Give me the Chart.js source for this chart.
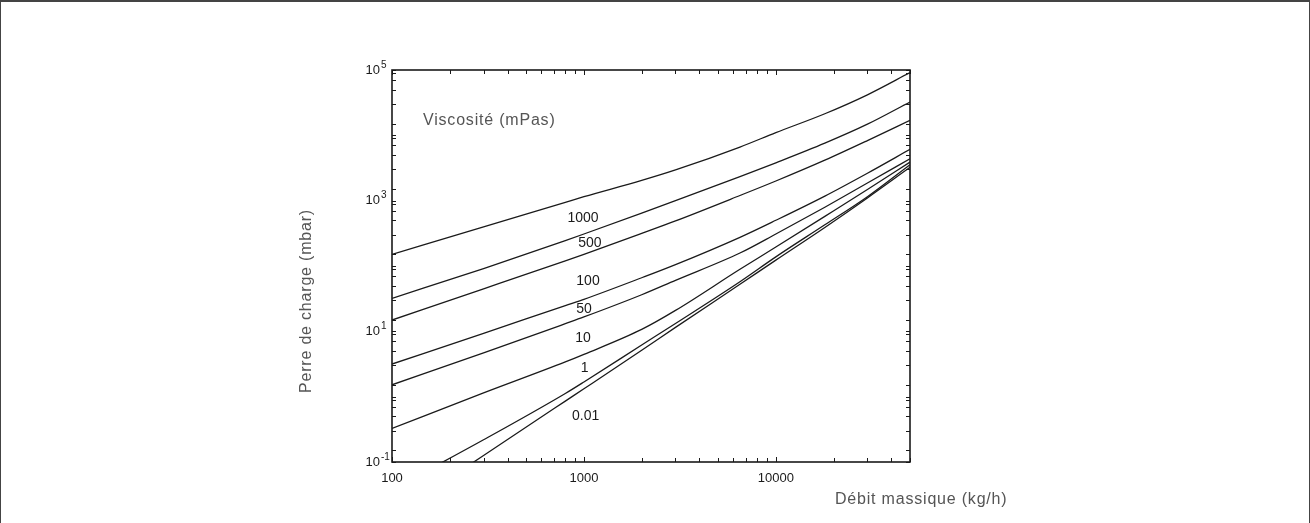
<!DOCTYPE html>
<html>
<head>
<meta charset="utf-8">
<title>Perte de charge</title>
<script src="https://cdn.jsdelivr.net/npm/chart.js@4.4.1/dist/chart.umd.min.js"></script>
<style>
  html, body { margin: 0; padding: 0; background: #fff; }
  .frame {
    position: absolute; left: 0; top: 0; width: 1310px; height: 523px;
    box-sizing: border-box;
    border-top: 2px solid #444; border-left: 1px solid #444; border-right: 1px solid #444;
  }
  .wrap { position: absolute; left: 0; top: 0; width: 1310px; height: 523px; }
</style>
</head>
<body>
<div class="frame"></div>
<div class="wrap"><canvas id="myChart" width="1310" height="523"></canvas></div>
<script>
// débit massique (kg/h)
const debit = [100, 300, 800, 1000, 2000, 3000, 6500, 10000, 18000, 30000, 50000];

// perte de charge (mbar) per viscosity (mPas)
const visc1000 = [151, 398, 944, 1150, 2040, 2950, 6610, 11000, 21400, 41700, 91200];
const visc500 = [32, 91.2, 245, 309, 646, 1000, 2340, 3800, 7590, 14800, 32400];
const visc100 = [14.9, 44.7, 120, 151, 316, 490, 1200, 2000, 4170, 8320, 17000];
const visc50 = [3.16, 9.33, 24.8, 30.9, 66.1, 105, 275, 501, 1175, 2630, 6100];
const visc10 = [1.52, 4.68, 13.1, 16.6, 36.3, 60.3, 158, 309, 794, 1860, 4370];
const visc1 = [0.327, 1.14, 3.4, 4.44, 10.7, 20.9, 89.1, 195, 575, 1480, 3890];
const visc01 = [0.038, 0.219, 1.12, 1.68, 6.17, 13.2, 57.5, 138, 427, 1150, 3550];
const visc001 = [0.0145, 0.126, 0.855, 1.32, 5.13, 11.5, 52.5, 123, 389, 1100, 3240];

const series = [visc1000, visc500, visc100, visc50, visc10, visc1, visc01, visc001];
const seriesNames = ["1000", "500", "100", "50", "10", "1", "0.1", "0.01"];

// tick labels
const xTickLabels = [100, 1000, 10000];
const yTickValues = [0.1, 10, 1000, 100000];
const yTickBase = "10";
const yTickExponents = ["-1", "1", "3", "5"];

// curve labels, anchored in data units
const curveLabelText = ["1000", "500", "100", "50", "10", "1", "0.01"];
const curveLabelX = [990, 1075, 1050, 1000, 990, 1010, 1020];
const curveLabelY = [543, 225, 58.9, 21.6, 7.9, 2.74, 0.506];

const xMin = 100, xMax = 50000, yMin = 0.1, yMax = 100000;

// tick marks: every unit on x, 1 / 1.5 / 3 / 5 / 7 / 9 on y
const xTicks = [];
for (let e = 2; e <= 4; e++) {
  for (let m = 1; m <= 9; m++) {
    const v = m * Math.pow(10, e);
    if (v <= xMax) xTicks.push(v);
  }
}
const yTicks = [];
for (let e = -1; e <= 4; e++) {
  [1, 1.5, 3, 5, 7, 9].forEach((m) => yTicks.push(m * Math.pow(10, e)));
}
yTicks.push(yMax);

const grey = "#555";
const ink = "#1a1a1a";
const family = "'Liberation Sans', Arial, sans-serif";

const frameTicks = {
  id: "frameTicks",
  afterDatasetsDraw(chart) {
    const { ctx, chartArea: a, scales } = chart;
    ctx.save();
    ctx.strokeStyle = ink;
    ctx.lineWidth = 1;
    xTicks.forEach((v) => {
      const px = Math.round(scales.x.getPixelForValue(v)) + 0.5;
      const len = Number.isInteger(Math.log10(v)) ? 5 : 4;
      ctx.beginPath();
      ctx.moveTo(px, a.bottom);
      ctx.lineTo(px, a.bottom - len);
      ctx.moveTo(px, a.top);
      ctx.lineTo(px, a.top + len);
      ctx.stroke();
    });
    yTicks.forEach((v) => {
      const py = Math.round(scales.y.getPixelForValue(v)) + 0.5;
      const len = 4;
      ctx.beginPath();
      ctx.moveTo(a.left, py);
      ctx.lineTo(a.left + len, py);
      ctx.moveTo(a.right, py);
      ctx.lineTo(a.right - len, py);
      ctx.stroke();
    });
    ctx.lineWidth = 1.6;
    ctx.strokeRect(a.left, a.top, a.right - a.left, a.bottom - a.top);
    ctx.restore();
  },
};

const texts = {
  id: "texts",
  afterDraw(chart) {
    const { ctx, chartArea: a, scales } = chart;
    ctx.save();

    // exponents of the y tick labels
    ctx.fillStyle = ink;
    ctx.font = `10px ${family}`;
    ctx.textAlign = "left";
    ctx.textBaseline = "middle";
    yTickValues.forEach((v, i) => {
      ctx.fillText(yTickExponents[i], a.left - 11, scales.y.getPixelForValue(v) - 5);
    });

    // curve labels
    ctx.font = `14px ${family}`;
    ctx.textAlign = "center";
    curveLabelText.forEach((t, i) => {
      ctx.fillText(
        t,
        scales.x.getPixelForValue(curveLabelX[i]),
        scales.y.getPixelForValue(curveLabelY[i])
      );
    });

    ctx.fillStyle = grey;
    ctx.font = `16px ${family}`;
    ctx.letterSpacing = "0.8px";

    ctx.textAlign = "left";
    ctx.textBaseline = "alphabetic";
    ctx.fillText("Viscosité (mPas)", a.left + 31, a.top + 55);

    ctx.textBaseline = "middle";
    ctx.fillText("Débit massique (kg/h)", a.right - 75, a.bottom + 38);

    ctx.translate(a.left - 85, a.top + 231);
    ctx.rotate(-Math.PI / 2);
    ctx.textAlign = "center";
    ctx.fillText("Perre de charge (mbar)", 0, 0);

    ctx.restore();
  },
};

const ctx = document.querySelector("#myChart");

const datasets = series.map((values, i) => ({
  label: seriesNames[i],
  data: debit.map((x, j) => ({ x, y: values[j] })),
  borderColor: ink,
  borderWidth: 1.3,
  pointRadius: 0,
  fill: false,
  cubicInterpolationMode: "monotone",
}));

Chart.defaults.font.family = family;

new Chart(ctx, {
  type: "line",
  data: { datasets },
  plugins: [frameTicks, texts],
  options: {
    responsive: false,
    animation: false,
    devicePixelRatio: 1,
    layout: { padding: { left: 300, right: 400, top: 70, bottom: 21 } },
    plugins: { legend: { display: false }, tooltip: { enabled: false } },
    scales: {
      x: {
        type: "logarithmic",
        position: "bottom",
        min: xMin,
        max: xMax,
        grid: { display: false, drawTicks: false },
        border: { display: false },
        ticks: {
          autoSkip: false,
          maxRotation: 0,
          padding: 9,
          color: ink,
          font: { size: 13 },
          callback: (v) => (xTickLabels.includes(v) ? String(v) : ""),
        },
        afterBuildTicks: (axis) => {
          axis.ticks = xTicks.map((v) => ({ value: v }));
        },
        afterFit: (axis) => {
          axis.height = 40;
        },
      },
      y: {
        type: "logarithmic",
        position: "left",
        min: yMin,
        max: yMax,
        grid: { display: false, drawTicks: false },
        border: { display: false },
        ticks: {
          autoSkip: false,
          padding: 12,
          color: ink,
          font: { size: 13 },
          callback: (v) => (yTickValues.includes(v) ? yTickBase : ""),
        },
        afterBuildTicks: (axis) => {
          axis.ticks = yTicks.map((v) => ({ value: v }));
        },
        afterFit: (axis) => {
          axis.width = 92;
        },
      },
    },
  },
});
</script>
</body>
</html>
